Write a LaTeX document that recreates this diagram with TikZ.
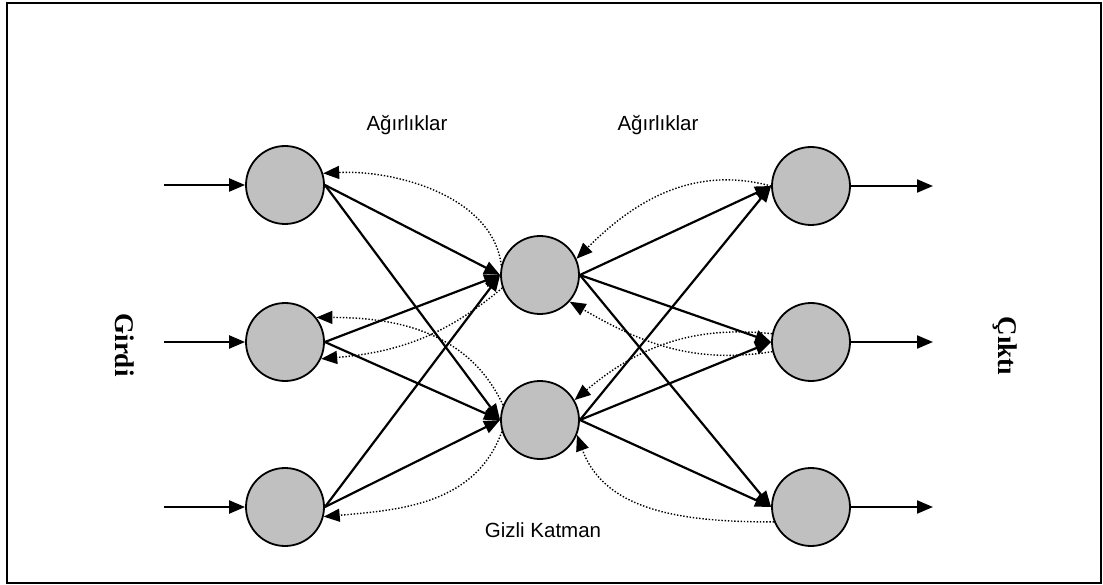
\documentclass[tikz,border=0pt]{standalone}
\usepackage{fontspec}
\setmainfont{Liberation Sans}
\newfontfamily\sidefont{Liberation Serif}
\usetikzlibrary{arrows.meta}
\definecolor{neurongray}{RGB}{192,192,192}
\begin{document}
\begin{tikzpicture}[x=1pt,y=1pt,
  neuron/.style={circle,draw,line width=1.8pt,fill=neurongray,minimum size=78pt,inner sep=0pt},
  link/.style={line width=2.2pt,-{Triangle[length=16pt,width=13pt]}},
  back/.style={line width=1.4pt,dash pattern=on 1.4pt off 1.8pt,-{Triangle[length=16pt,width=13pt]}},
  lbl/.style={font=\fontsize{20.5}{24}\selectfont},
  side/.style={font=\sidefont\bfseries\fontsize{27}{30}\selectfont,rotate=-90}]
\useasboundingbox (0,0) rectangle (1103,-585);
\draw[line width=2pt] (7,-3) rectangle (1101,-583);

% layers
\node[neuron] (I1) at (285,-185) {};
\node[neuron] (I2) at (285,-342) {};
\node[neuron] (I3) at (285,-507) {};
\node[neuron] (H1) at (540,-275) {};
\node[neuron] (H2) at (540,-420) {};
\node[neuron] (O1) at (811,-186) {};
\node[neuron] (O2) at (811,-342) {};
\node[neuron] (O3) at (811,-507) {};

% labels
\node[lbl] (w1) at (407,-125) {Ağırlıklar};
\node[lbl] (w2) at (658,-125) {Ağırlıklar};
\node[lbl] (hid) at (543,-530) {Gizli Katman};
\node[side] (inp) at (125,-345) {Girdi};
\node[side] (out) at (1005,-346) {Çıktı};

% inputs and outputs
\coordinate (a1) at (164,-185);
\coordinate (a2) at (164,-342);
\coordinate (a3) at (164,-507);
\coordinate (b1) at (933,-186);
\coordinate (b2) at (933,-342);
\coordinate (b3) at (933,-507);
\foreach \i in {1,2,3} {
  \draw[link] (a\i) -- (I\i.west);
  \draw[link] (O\i.east) -- (b\i);
}

% forward weights
\foreach \i in {1,2,3} {
  \draw[link] (I\i.east) -- (H1.west);
  \draw[link] (I\i.east) -- (H2.west);
  \draw[link] (H1.east) -- (O\i.west);
  \draw[link] (H2.east) -- (O\i.west);
}

% error feedback
\draw[back] (H1.166) to[out=97,in=3,looseness=0.9] (I1.17);
\draw[back] (H1.199) to[out=220,in=5] (I2.-25);
\draw[back] (H2.158) to[out=115,in=0] (I2.38);
\draw[back] (H2.197) to[out=250,in=5] (I3.-14);
\draw[back] (O1.180) to[out=165,in=45] (H1.24);
\draw[back] (O2.194) to[out=189,in=-30] (H1.-42);
\draw[back] (O2.168) to[out=174,in=40] (H2.30);
\draw[back] (O3.202) to[out=180,in=-70] (H2.-22);
\end{tikzpicture}
\end{document}
